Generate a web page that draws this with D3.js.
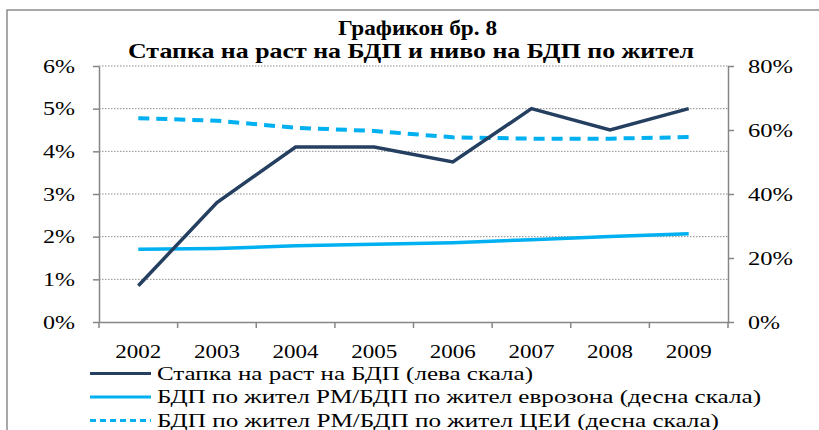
<!DOCTYPE html>
<html>
<head>
<meta charset="utf-8">
<script src="https://cdn.jsdelivr.net/npm/d3@7"></script>
<style>
  body { margin: 0; background: #fff; }
  svg text { font-family: "Liberation Serif", "Times New Roman", serif; fill: #000; }
</style>
</head>
<body>
<div id="chart"></div>
<script>
// podatoci
const years = ["2002", "2003", "2004", "2005", "2006", "2007", "2008", "2009"];
const growth = [0.85, 2.8, 4.1, 4.1, 3.75, 5.0, 4.5, 5.0];          // лева скала
const euroZone = [22.7, 23.0, 23.8, 24.3, 24.8, 25.7, 26.7, 27.6];   // десна скала
const cei = [63.7, 62.9, 60.7, 59.7, 57.7, 57.3, 57.3, 57.8];        // десна скала
const leftTicks = [0, 1, 2, 3, 4, 5, 6];
const rightTicks = [0, 20, 40, 60, 80];
const seriesNames = [
  "Стапка на раст на БДП (лева скала)",
  "БДП по жител РМ/БДП по жител еврозона (десна скала)",
  "БДП по жител РМ/БДП по жител ЦЕИ (десна скала)"
];

const width = 819, height = 430;
const margin = { top: 66, right: 91, bottom: 108, left: 99 };
const innerW = width - margin.left - margin.right;
const innerH = height - margin.top - margin.bottom;

const svg = d3.select("#chart").append("svg")
  .attr("width", width)
  .attr("height", height);

// ramka
svg.append("rect")
  .attr("x", 7).attr("y", 10)
  .attr("width", 830).attr("height", 440)
  .attr("fill", "none")
  .attr("stroke", "#8c8c8c")
  .attr("stroke-width", 1.5);

// naslov
svg.append("text")
  .attr("x", 338).attr("y", 35)
  .attr("textLength", 159).attr("lengthAdjust", "spacingAndGlyphs")
  .style("font-size", "21px").style("font-weight", "bold")
  .text("Графикон бр. 8");
svg.append("text")
  .attr("x", 128).attr("y", 58)
  .attr("textLength", 566).attr("lengthAdjust", "spacingAndGlyphs")
  .style("font-size", "21px").style("font-weight", "bold")
  .text("Стапка на раст на БДП и ниво на БДП по жител");

const g = svg.append("g")
  .attr("transform", "translate(" + margin.left + "," + margin.top + ")");

const xBand = d3.scaleBand().domain(years).range([0, innerW]);
const xPos = d => xBand(d) + xBand.bandwidth() / 2;
const yLeft = d3.scaleLinear().domain([0, 6]).range([innerH, 0]);
const yRight = d3.scaleLinear().domain([0, 80]).range([innerH, 0]);

// mreza
g.selectAll(".grid").data(leftTicks.slice(1)).enter()
  .append("line")
  .attr("x1", 0).attr("x2", innerW)
  .attr("y1", d => yLeft(d)).attr("y2", d => yLeft(d))
  .attr("stroke", "#8c8c8c")
  .attr("stroke-width", 1)
  .attr("stroke-dasharray", "1.5,1.5");

// oski
const leftAxis = g.append("g")
  .call(d3.axisLeft(yLeft).tickValues(leftTicks).tickSize(6).tickSizeOuter(0)
    .tickFormat(d => d + "%"));
const rightAxis = g.append("g")
  .attr("transform", "translate(" + innerW + ",0)")
  .call(d3.axisRight(yRight).tickValues(rightTicks).tickSize(6).tickSizeOuter(0)
    .tickFormat(d => d + "%"));
const bottomAxis = g.append("g")
  .attr("transform", "translate(0," + innerH + ")")
  .call(d3.axisBottom(xBand).tickSize(0));

[leftAxis, rightAxis, bottomAxis].forEach(a => {
  a.select(".domain").attr("stroke", "#868686").attr("stroke-width", 1.5);
  a.selectAll(".tick line").attr("stroke", "#868686").attr("stroke-width", 1.5);
  a.selectAll("text").style("font-size", "19px")
    .style("font-family", "'Liberation Serif', serif");
});
// sirinata na oznakite kako vo originalot
leftAxis.selectAll("text").attr("x", -24)
  .attr("textLength", 32).attr("lengthAdjust", "spacingAndGlyphs");
rightAxis.selectAll("text").attr("x", 20)
  .attr("textLength", d => d === 0 ? 32 : 45).attr("lengthAdjust", "spacingAndGlyphs");
bottomAxis.selectAll("text").attr("dy", 0).attr("y", 36)
  .attr("textLength", 46).attr("lengthAdjust", "spacingAndGlyphs");

// podelbi na x oskata
g.selectAll(".xtick").data(years.concat(["end"])).enter()
  .append("line")
  .attr("x1", (d, i) => i * xBand.step()).attr("x2", (d, i) => i * xBand.step())
  .attr("y1", innerH).attr("y2", innerH + 6)
  .attr("stroke", "#868686").attr("stroke-width", 1.5);

// linii
const lineLeft = d3.line().x((d, i) => xPos(years[i])).y(d => yLeft(d));
const lineRight = d3.line().x((d, i) => xPos(years[i])).y(d => yRight(d));

g.append("path").datum(cei)
  .attr("d", lineRight)
  .attr("fill", "none").attr("stroke", "#00B0F0")
  .attr("stroke-width", 4).attr("stroke-dasharray", "11,7");
g.append("path").datum(euroZone)
  .attr("d", lineRight)
  .attr("fill", "none").attr("stroke", "#00B0F0")
  .attr("stroke-width", 3.5);
g.append("path").datum(growth)
  .attr("d", lineLeft)
  .attr("fill", "none").attr("stroke", "#243F60")
  .attr("stroke-width", 3.5);

// legenda
const legendStyles = [
  { color: "#243F60", dash: null, len: 376 },
  { color: "#00B0F0", dash: null, len: 604 },
  { color: "#00B0F0", dash: "6,4", len: 562 }
];
const legend = svg.append("g");
seriesNames.forEach((name, i) => {
  const y = 373.5 + i * 23.5;
  legend.append("line")
    .attr("x1", 90).attr("x2", 151)
    .attr("y1", y).attr("y2", y)
    .attr("stroke", legendStyles[i].color)
    .attr("stroke-width", 3)
    .attr("stroke-dasharray", legendStyles[i].dash);
  legend.append("text")
    .attr("x", 157).attr("y", y + 6)
    .attr("textLength", legendStyles[i].len).attr("lengthAdjust", "spacingAndGlyphs")
    .style("font-size", "18px")
    .text(name);
});
</script>
</body>
</html>
